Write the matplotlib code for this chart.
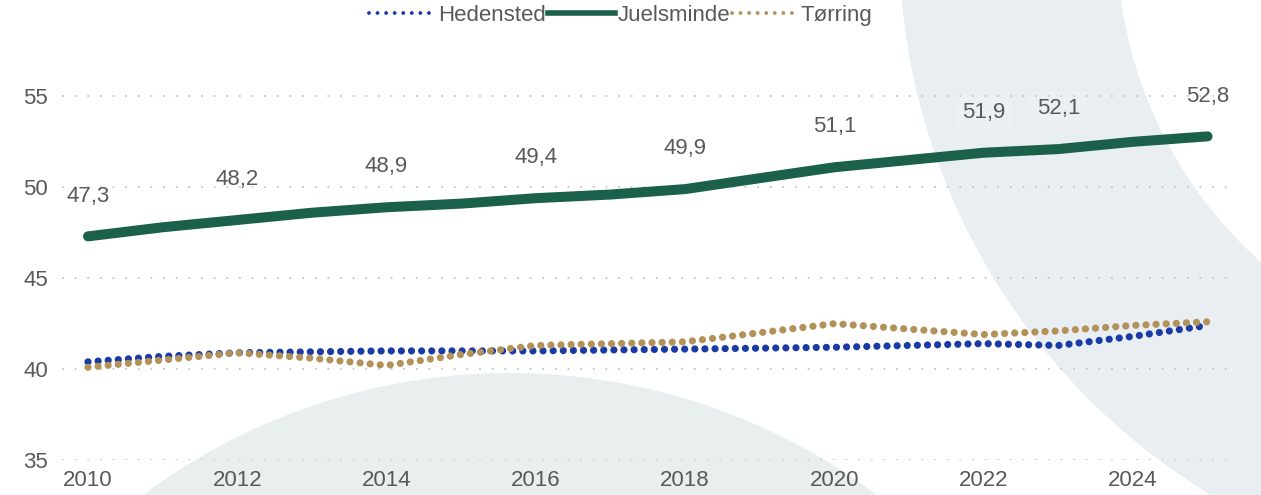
import matplotlib.pyplot as plt
from matplotlib.patches import Circle, Wedge
from matplotlib.lines import Line2D

years = list(range(2010, 2026))
hedensted = [40.4, 40.7, 40.9, 40.95, 41.0, 41.0, 41.0, 41.05, 41.1, 41.15, 41.2, 41.3, 41.4, 41.3, 41.8, 42.4]
juelsminde = [47.3, 47.8, 48.2, 48.6, 48.9, 49.1, 49.4, 49.6, 49.9, 50.5, 51.1, 51.5, 51.9, 52.1, 52.5, 52.8]
torring = [40.1, 40.5, 40.9, 40.6, 40.2, 40.8, 41.3, 41.4, 41.5, 42.0, 42.5, 42.2, 41.9, 42.1, 42.4, 42.6]
label_years = [2010, 2012, 2014, 2016, 2018, 2020, 2022, 2023, 2025]

blue = '#1a3aa6'
green = '#1b604a'
tan = '#b39259'
grey = '#595959'

plt.rcParams['font.family'] = ['Liberation Sans', 'DejaVu Sans']

fig = plt.figure(figsize=(12.61, 4.95), dpi=100)

# background shapes, in pixel coords
bg = fig.add_axes([0, 0, 1, 1], zorder=0)
bg.set_xlim(0, 1261)
bg.set_ylim(495, 0)
bg.axis('off')
bg.add_patch(Circle((510, 986), 613, color='#e9efee', lw=0))
bg.add_patch(Wedge((1547, -59), 648, 0, 360, width=218, color='#e9eef3', lw=0))

ax = fig.add_axes([0.0492, 0.0707, 0.9308, 0.8081], zorder=1)
ax.patch.set_alpha(0)

dots = (0, (0.001, 1.4))
ax.plot(years, hedensted, color=blue, lw=5.2, linestyle=dots, dash_capstyle='round', zorder=3)
ax.plot(years, juelsminde, color=green, lw=7.2, solid_capstyle='round', solid_joinstyle='round', zorder=3)
ax.plot(years, torring, color=tan, lw=5.2, linestyle=dots, dash_capstyle='round', zorder=3)

for yr, v in zip(years, juelsminde):
    if yr in label_years:
        ax.annotate(f'{v:.1f}'.replace('.', ','), (yr, v), xytext=(0, 29), textcoords='offset points',
                    ha='center', va='center', fontsize=16, color=grey,
                    bbox=dict(boxstyle='round,pad=0.3', fc='white', ec='none', alpha=0.12))

ax.set_xlim(2009.652, 2025.378)
ax.set_ylim(35, 57)
ax.set_xticks(range(2010, 2025, 2))
ax.set_yticks([35, 40, 45, 50, 55])
ax.tick_params(length=0, labelsize=16, labelcolor=grey)
ax.tick_params(axis='y', pad=10)
ax.tick_params(axis='x', pad=7)
ax.grid(axis='y', color='#c4c4c4', lw=1.3, linestyle=(0, (1, 6)))
ax.set_axisbelow(True)
for s in ax.spines.values():
    s.set_visible(False)

handles = [Line2D([], [], color=blue, lw=2.8, linestyle=(0, (0.001, 2.2)), dash_capstyle='round'),
           Line2D([], [], color=green, lw=4),
           Line2D([], [], color=tan, lw=2.8, linestyle=(0, (0.001, 2.2)), dash_capstyle='round')]
fig.legend(handles, ['Hedensted', 'Juelsminde', 'Tørring'], loc='upper center', bbox_to_anchor=(0.4925, 1.03),
           ncol=3, frameon=False, fontsize=16, labelcolor=grey, handlelength=3.0, handletextpad=0.1,
           columnspacing=0.1)

fig.savefig('out.png', dpi=100)
